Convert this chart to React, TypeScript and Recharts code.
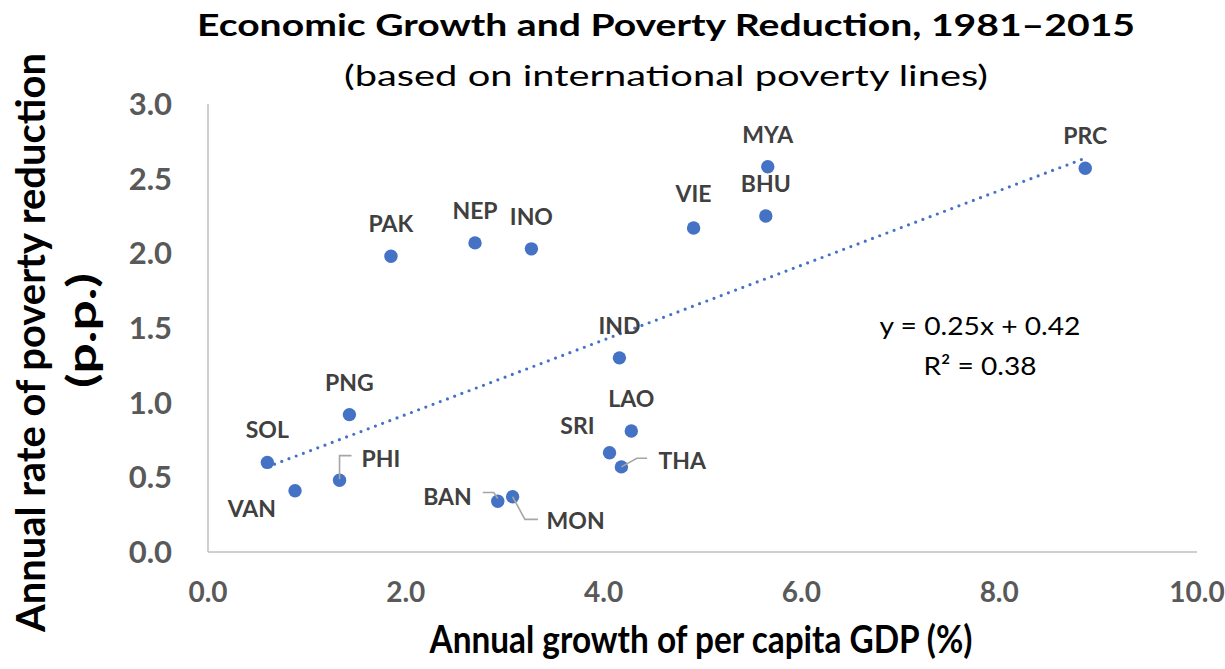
import { ReferenceLine, Scatter, ScatterChart, XAxis, YAxis } from 'recharts';

document.body.style.margin = '0';

// economies, in drawing order
const codes = ['SOL', 'VAN', 'PHI', 'PNG', 'PAK', 'NEP', 'INO', 'BAN', 'MON', 'SRI', 'THA', 'LAO', 'IND', 'VIE', 'BHU', 'MYA', 'PRC'];
// annual growth of per capita GDP (%)
const gdpGrowth = [0.6, 0.88, 1.33, 1.43, 1.85, 2.7, 3.27, 2.93, 3.08, 4.06, 4.18, 4.28, 4.16, 4.91, 5.64, 5.66, 8.87];
// annual rate of poverty reduction (p.p.)
const povertyReduction = [0.6, 0.41, 0.48, 0.92, 1.98, 2.07, 2.03, 0.34, 0.37, 0.665, 0.57, 0.81, 1.3, 2.17, 2.25, 2.58, 2.57];

const xTicks = [0, 2, 4, 6, 8, 10];
const yTicks = [0, 0.5, 1, 1.5, 2, 2.5, 3];

// linear trendline as printed on the chart
const trendSlope = 0.25;
const trendIntercept = 0.42;
const rSquared = 0.38;

const data = codes.map((code, i) => ({ code, x: gdpGrowth[i], y: povertyReduction[i] }));

const minX = Math.min(...gdpGrowth);
const maxX = Math.max(...gdpGrowth);
const trendSegment = [
  { x: minX, y: trendSlope * minX + trendIntercept },
  { x: maxX, y: trendSlope * maxX + trendIntercept }
];

const BLUE = '#4472C4';
const FONT = 'Lato, "Open Sans", sans-serif';

type LabelPos = { dx: number; dy: number; anchor: 'start' | 'middle' | 'end'; leader?: number[][] };

// label placement relative to the point (pixels)
const labelPos: Record<string, LabelPos> = {
  VAN: { dx: -19, dy: 26, anchor: 'end' },
  SRI: { dx: -15, dy: -19, anchor: 'end' },
  VIE: { dx: 0, dy: -26, anchor: 'middle' },
  PHI: { dx: 22, dy: -13.5, anchor: 'start', leader: [[0, -1], [0, -24.7], [12, -24.7]] },
  BAN: { dx: -26, dy: 3.3, anchor: 'end', leader: [[0, -2.7], [-4, -8.7], [-15, -8.7]] },
  MON: { dx: 34, dy: 32.3, anchor: 'start', leader: [[0, 0], [12.3, 22.6], [25.3, 22.6]] },
  THA: { dx: 37, dy: 1.7, anchor: 'start', leader: [[0, 0], [15.4, -8.7], [25.7, -8.7]] }
};
const defaultPos: LabelPos = { dx: 0, dy: -24, anchor: 'middle' };

const renderPoint = (props: any) => {
  const { cx, cy, payload } = props;
  if (cx == null || cy == null) return <g />;
  const pos = labelPos[payload.code] ?? defaultPos;
  return (
    <g>
      <circle cx={cx} cy={cy} r={6.7} fill={BLUE} />
      {pos.leader && (
        <polyline
          points={pos.leader.map(([px, py]) => `${cx + px},${cy + py}`).join(' ')}
          fill="none"
          stroke="#A6A6A6"
          strokeWidth={1.6}
        />
      )}
      <text
        x={cx + pos.dx}
        y={cy + pos.dy}
        textAnchor={pos.anchor}
        fontFamily={FONT}
        fontWeight={700}
        fontSize={23}
        fill="#404040"
      >
        {payload.code}
      </text>
    </g>
  );
};

const xTickStyle = { fill: '#595959', fontSize: 28, fontWeight: 700, fontFamily: FONT };
const yTickStyle = { fill: '#595959', fontSize: 31, fontWeight: 700, fontFamily: FONT };

export default function App() {
  return (
    <div style={{ position: 'relative', width: 1225, height: 669, background: '#fff' }}>
      <ScatterChart width={1225} height={669} margin={{ top: 104, right: 28, bottom: 0, left: 108 }}>
        <XAxis
          type="number"
          dataKey="x"
          domain={[0, 10]}
          ticks={xTicks}
          tickFormatter={(v: number) => v.toFixed(1)}
          tick={xTickStyle}
          tickLine={false}
          tickSize={0}
          tickMargin={30}
          height={117}
          axisLine={{ stroke: '#BFBFBF', strokeWidth: 1.5 }}
        />
        <YAxis
          type="number"
          dataKey="y"
          domain={[0, 3]}
          ticks={yTicks}
          tickFormatter={(v: number) => v.toFixed(1)}
          tick={yTickStyle}
          tickLine={false}
          tickSize={0}
          tickMargin={36}
          width={100}
          axisLine={{ stroke: '#BFBFBF', strokeWidth: 1.5 }}
        />
        <ReferenceLine
          segment={trendSegment}
          stroke={BLUE}
          strokeWidth={3.2}
          strokeDasharray="0 7.7"
          strokeLinecap="round"
        />
        <Scatter data={data} shape={renderPoint} isAnimationActive={false} />
      </ScatterChart>

      <svg width={1225} height={669} style={{ position: 'absolute', left: 0, top: 0, pointerEvents: 'none' }}>
        <text x={666} y={36} textAnchor="middle" fontFamily={FONT} fontWeight={700} fontSize={30} textLength={938} lengthAdjust="spacingAndGlyphs" fill="#000">
          Economic Growth and Poverty Reduction, 1981–2015
        </text>
        <text x={666} y={86} textAnchor="middle" fontFamily={FONT} fontSize={28} textLength={644} lengthAdjust="spacingAndGlyphs" fill="#000">
          (based on international poverty lines)
        </text>
        <text transform="translate(45, 342.5) rotate(-90)" textAnchor="middle" fontFamily={FONT} fontWeight={700} fontSize={41} textLength={579} lengthAdjust="spacingAndGlyphs" fill="#000">
          Annual rate of poverty reduction
        </text>
        <text transform="translate(96, 330.5) rotate(-90)" textAnchor="middle" fontFamily={FONT} fontWeight={700} fontSize={41} textLength={115} lengthAdjust="spacingAndGlyphs" fill="#000">
          (p.p.)
        </text>
        <text x={701} y={653} textAnchor="middle" fontFamily={FONT} fontWeight={700} fontSize={38} textLength={543} lengthAdjust="spacingAndGlyphs" fill="#000">
          Annual growth of per capita GDP (%)
        </text>
        <text x={980} y={335} textAnchor="middle" fontFamily={FONT} fontSize={25} textLength={201} lengthAdjust="spacingAndGlyphs" fill="#000">
          {`y = ${trendSlope.toFixed(2)}x + ${trendIntercept.toFixed(2)}`}
        </text>
        <text x={980} y={375} textAnchor="middle" fontFamily={FONT} fontSize={25} textLength={113} lengthAdjust="spacingAndGlyphs" fill="#000">
          {`R² = ${rSquared.toFixed(2)}`}
        </text>
      </svg>
    </div>
  );
}
